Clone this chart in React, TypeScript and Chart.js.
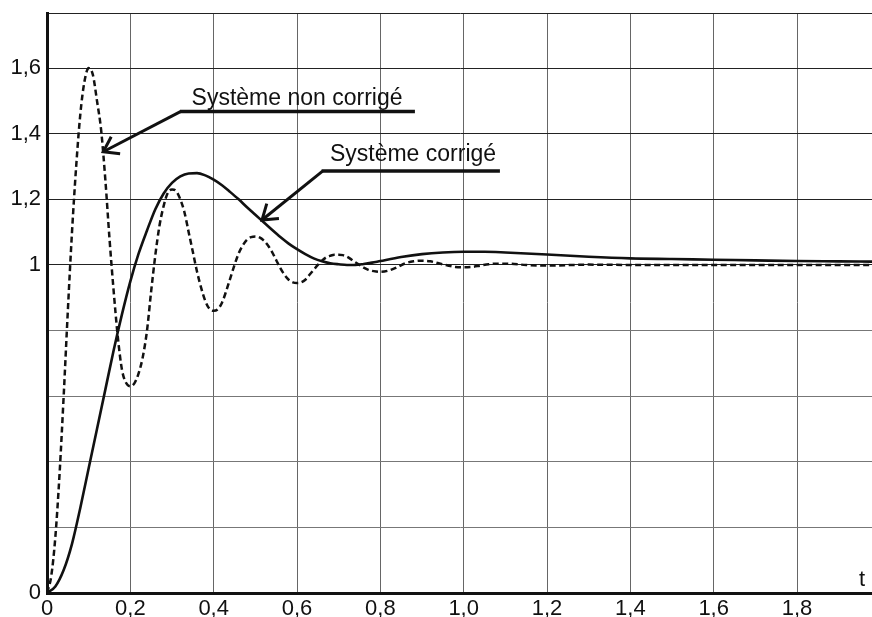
import { useEffect, useRef } from 'react';
import { Chart, registerables } from 'chart.js';

Chart.register(...registerables);

// Axis extents
const T_MAX = 1.98;
const Y_MAX = 1.768;

// Step response of the uncorrected system (dashed)
const tUncorrected = [
  0, 0.01, 0.02, 0.03, 0.04, 0.05, 0.06, 0.07, 0.08, 0.09,
  0.1, 0.11, 0.12, 0.13, 0.14, 0.15, 0.16, 0.17, 0.18, 0.19,
  0.2, 0.21, 0.22, 0.23, 0.24, 0.25, 0.26, 0.27, 0.28, 0.29,
  0.3, 0.31, 0.32, 0.33, 0.34, 0.35, 0.36, 0.37, 0.38, 0.39,
  0.4, 0.41, 0.42, 0.43, 0.44, 0.45, 0.46, 0.47, 0.48, 0.49,
  0.5, 0.51, 0.52, 0.53, 0.54, 0.55, 0.56, 0.57, 0.58, 0.59,
  0.6, 0.61, 0.62, 0.63, 0.64, 0.65, 0.66, 0.67, 0.68, 0.69,
  0.7, 0.71, 0.72, 0.73, 0.74, 0.75, 0.76, 0.77, 0.78, 0.79,
  0.8, 0.82, 0.84, 0.86, 0.88, 0.9, 0.92, 0.94, 0.96, 0.98,
  1.0, 1.02, 1.04, 1.06, 1.08, 1.1, 1.15, 1.2, 1.3, 1.4,
  1.5, 1.6, 1.7, 1.8, 1.9, 2.0,
];
const yUncorrected = [
  0, 0.05, 0.17, 0.36, 0.6, 0.86, 1.1, 1.3, 1.46, 1.56,
  1.6, 1.58, 1.5, 1.41, 1.26, 1.08, 0.92, 0.78, 0.68, 0.64,
  0.63, 0.64, 0.67, 0.72, 0.8, 0.92, 1.03, 1.12, 1.18, 1.22,
  1.23, 1.225, 1.2, 1.16, 1.1, 1.04, 0.98, 0.93, 0.89, 0.866,
  0.86, 0.865, 0.885, 0.92, 0.96, 1.0, 1.035, 1.06, 1.077, 1.085,
  1.087, 1.084, 1.075, 1.06, 1.04, 1.015, 0.99, 0.97, 0.955, 0.947,
  0.945, 0.947, 0.955, 0.97, 0.985, 1.0, 1.013, 1.023, 1.028, 1.031,
  1.031, 1.03, 1.025, 1.017, 1.008, 1.0, 0.992, 0.986, 0.982, 0.98,
  0.979, 0.983, 0.993, 1.005, 1.011, 1.013, 1.011, 1.005, 0.999, 0.994,
  0.993, 0.994, 0.998, 1.002, 1.004, 1.004, 1.0, 0.998, 1.001, 1.0,
  1.0, 1.0, 1.0, 1.0, 1.0, 1.0,
];

// Step response of the corrected system (solid)
const tCorrected = [
  0, 0.02, 0.04, 0.06, 0.08, 0.1, 0.12, 0.14, 0.16, 0.18,
  0.2, 0.22, 0.24, 0.26, 0.28, 0.3, 0.32, 0.34, 0.36, 0.38,
  0.4, 0.42, 0.44, 0.46, 0.48, 0.5, 0.52, 0.54, 0.56, 0.58,
  0.6, 0.62, 0.64, 0.66, 0.68, 0.7, 0.72, 0.74, 0.76, 0.78,
  0.8, 0.85, 0.9, 0.95, 1.0, 1.05, 1.1, 1.2, 1.3, 1.4,
  1.5, 1.6, 1.7, 1.8, 1.9, 2.0,
];
const yCorrected = [
  0, 0.02, 0.07, 0.15, 0.26, 0.38, 0.5, 0.62, 0.74, 0.85,
  0.95, 1.035, 1.105, 1.17, 1.218, 1.25, 1.27, 1.279, 1.28, 1.273,
  1.26, 1.243, 1.222, 1.2, 1.176, 1.153, 1.13, 1.107, 1.085, 1.065,
  1.048, 1.033, 1.02, 1.011, 1.005, 1.002, 1.0, 1.0, 1.003, 1.007,
  1.012, 1.024, 1.033, 1.038, 1.04, 1.04, 1.038, 1.032, 1.025, 1.02,
  1.018, 1.016, 1.014, 1.012, 1.011, 1.01,
];

// Tick values and their printed labels
const xTickValues = [0, 0.2, 0.4, 0.6, 0.8, 1.0, 1.2, 1.4, 1.6, 1.8];
const xTickLabels = ['0', '0,2', '0,4', '0,6', '0,8', '1,0', '1,2', '1,4', '1,6', '1,8'];
const yTickValues = [0, 0.2, 0.4, 0.6, 0.8, 1, 1.2, 1.4, 1.6, Y_MAX];
const yTickLabels = ['0', '', '', '', '', '1', '1,2', '1,4', '1,6', ''];

// Callout labels with an underline and an arrow pointing at a curve (data units)
const callouts = [
  {
    text: 'Système non corrigé',
    textT: 0.347, textY: 1.488,
    lineT0: 0.319, lineT1: 0.883, lineY: 1.468,
    tipT: 0.135, tipY: 1.345,
  },
  {
    text: 'Système corrigé',
    textT: 0.679, textY: 1.317,
    lineT0: 0.659, lineT1: 1.087, lineY: 1.286,
    tipT: 0.516, tipY: 1.137,
  },
];

const FONT = 'Arial, "Liberation Sans", sans-serif';
const INK = '#111';

const calloutPlugin = {
  id: 'callouts',
  afterDraw(chart: any) {
    const { ctx, chartArea } = chart;
    const xs = chart.scales.x;
    const ys = chart.scales.y;
    ctx.save();
    ctx.strokeStyle = INK;
    ctx.fillStyle = INK;
    ctx.lineCap = 'butt';
    for (const c of callouts) {
      const x0 = xs.getPixelForValue(c.lineT0);
      const x1 = xs.getPixelForValue(c.lineT1);
      const ly = ys.getPixelForValue(c.lineY);
      const tx = xs.getPixelForValue(c.tipT);
      const ty = ys.getPixelForValue(c.tipY);

      ctx.lineWidth = 3.5;
      ctx.beginPath();
      ctx.moveTo(x0, ly);
      ctx.lineTo(x1, ly);
      ctx.stroke();

      ctx.lineWidth = 3;
      ctx.lineJoin = 'miter';
      ctx.beginPath();
      ctx.moveTo(x0 + 1, ly);
      ctx.lineTo(tx, ty);
      ctx.stroke();

      const back = Math.atan2(ly - ty, x0 - tx);
      const spread = 0.6;
      const len = 17;
      ctx.beginPath();
      ctx.moveTo(tx + len * Math.cos(back + spread), ty + len * Math.sin(back + spread));
      ctx.lineTo(tx, ty);
      ctx.lineTo(tx + len * Math.cos(back - spread), ty + len * Math.sin(back - spread));
      ctx.stroke();

      ctx.font = `23px ${FONT}`;
      ctx.textAlign = 'left';
      ctx.textBaseline = 'alphabetic';
      ctx.fillText(c.text, xs.getPixelForValue(c.textT), ys.getPixelForValue(c.textY));
    }

    ctx.font = `22px ${FONT}`;
    ctx.textAlign = 'right';
    ctx.textBaseline = 'alphabetic';
    ctx.fillText('t', chartArea.right - 7, chartArea.bottom - 7);
    ctx.restore();
  },
};

export default function App() {
  const canvasRef = useRef<HTMLCanvasElement | null>(null);

  useEffect(() => {
    const canvas = canvasRef.current;
    if (!canvas) return;

    const chart = new Chart(canvas, {
      type: 'line',
      data: {
        datasets: [
          {
            label: 'Système non corrigé',
            data: tUncorrected.map((t, i) => ({ x: t, y: yUncorrected[i] })),
            borderColor: INK,
            borderWidth: 2.5,
            borderDash: [6, 3.5],
            pointRadius: 0,
            fill: false,
            cubicInterpolationMode: 'monotone',
          },
          {
            label: 'Système corrigé',
            data: tCorrected.map((t, i) => ({ x: t, y: yCorrected[i] })),
            borderColor: INK,
            borderWidth: 2.6,
            pointRadius: 0,
            fill: false,
            cubicInterpolationMode: 'monotone',
          },
        ],
      },
      options: {
        responsive: false,
        animation: false,
        events: [],
        layout: { padding: { top: 13, left: 0, right: 0, bottom: 0 } },
        plugins: {
          legend: { display: false },
          tooltip: { enabled: false },
        },
        scales: {
          x: {
            type: 'linear',
            min: 0,
            max: T_MAX,
            afterFit: (s: any) => {
              s.height = 24;
              s.paddingLeft = 0;
              s.paddingRight = 0;
            },
            afterBuildTicks: (s: any) => { s.ticks = xTickValues.map((v) => ({ value: v })); },
            ticks: {
              autoSkip: false,
              maxRotation: 0,
              padding: 3,
              color: INK,
              font: { family: FONT, size: 22 },
              callback: (_v: any, i: number) => xTickLabels[i],
            },
            grid: { color: '#666', lineWidth: 1, drawTicks: false },
            border: { display: true, color: INK, width: 3 },
          },
          y: {
            type: 'linear',
            min: 0,
            max: Y_MAX,
            afterFit: (s: any) => {
              s.width = 47;
              s.paddingTop = 0;
              s.paddingBottom = 0;
            },
            afterBuildTicks: (s: any) => { s.ticks = yTickValues.map((v) => ({ value: v })); },
            ticks: {
              autoSkip: false,
              padding: 6,
              color: INK,
              font: { family: FONT, size: 22 },
              callback: (_v: any, i: number) => yTickLabels[i],
            },
            grid: {
              color: (ctx: any) => (ctx.tick && ctx.tick.value >= 1 ? '#222' : '#777'),
              lineWidth: 1,
              drawTicks: false,
            },
            border: { display: true, color: INK, width: 3 },
          },
        },
      },
      plugins: [calloutPlugin],
    });

    return () => chart.destroy();
  }, []);

  return (
    <div style={{ position: 'fixed', left: 0, top: 0, width: 872, height: 617, background: '#fff' }}>
      <canvas ref={canvasRef} width={872} height={617} style={{ display: 'block' }} />
    </div>
  );
}
